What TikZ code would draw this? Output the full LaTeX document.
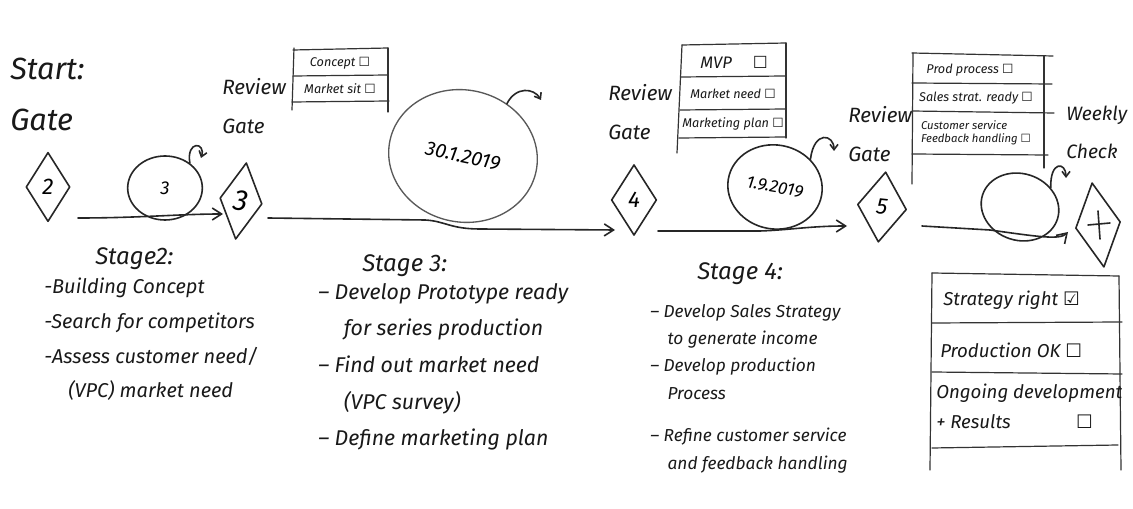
\documentclass[tikz,border=0pt]{standalone}
\usepackage{fontspec}
\setmainfont{Fira Sans}
\newfontfamily\sym{DejaVu Sans}
\usetikzlibrary{shapes.geometric,arrows.meta}
\newcommand{\cb}{{\sym\char"2610}}
\newcommand{\cbx}{{\sym\char"2611}}
\tikzset{
  ink/.style={draw=black!85, line width=1.2pt, line cap=round, line join=round},
  thin ink/.style={draw=black!80, line width=0.9pt, line cap=round},
  gatebox/.style={shape=diamond, ink, inner sep=0pt, font=\fontsize{17}{20}\selectfont\itshape},
  loopnode/.style={shape=ellipse, ink, inner sep=0pt},
  flow/.style={ink, -{Straight Barb[length=7pt,width=9pt]}},
  curl/.style={ink, -{Straight Barb[length=4pt,width=6pt]}},
  hand/.style={font=\fontsize{15}{26}\selectfont\itshape, align=left, inner sep=0pt, text=black!90},
  head/.style={font=\fontsize{18}{20}\selectfont\itshape, inner sep=0pt, text=black!90},
  label/.style={font=\fontsize{15.5}{29}\selectfont\itshape, align=left, inner sep=0pt, text=black!90},
  biglabel/.style={font=\fontsize{23}{38}\selectfont\itshape, align=left, inner sep=0pt, text=black!90},
  row/.style={font=\fontsize{9.5}{11}\selectfont\itshape, inner sep=0pt, text=black!90, align=left},
  bigrow/.style={font=\fontsize{14}{22}\selectfont\itshape, inner sep=0pt, text=black!90, align=left},
}
\begin{document}
\begin{tikzpicture}[x=0.75pt, y=-0.75pt]
\useasboundingbox (0,0) rectangle (1133,509);
\fill[white] (0,0) rectangle (1133,509);

% ---- gate labels
\node[biglabel, anchor=north west] (startlbl) at (10,58) {Start:\\Gate};
\node[label, anchor=north west] (rev3) at (222,78) {Review\\Gate};
\node[label, anchor=north west] (rev4) at (608,84) {Review\\Gate};
\node[label, anchor=north west] (rev5) at (848,106) {Review\\Gate};
\node[label, anchor=north west, font=\fontsize{14.5}{28}\selectfont\itshape] (weekly) at (1066,106) {Weekly\\Check};

% ---- gates
\node[gatebox, minimum width=33pt, minimum height=52pt] (d2) at (48,187) {2};
\node[gatebox, minimum width=32pt, minimum height=58pt, font=\fontsize{22}{24}\selectfont\itshape, rotate=-8] (d3) at (241,201) {3};
\node[gatebox, minimum width=34pt, minimum height=53pt] (d4) at (634,200) {4};
\node[gatebox, minimum width=37pt, minimum height=53pt, rotate=-6] (d5) at (882,207) {5};
\node[gatebox, minimum width=34pt, minimum height=64pt, rotate=8] (dx) at (1098,225) {};
\draw[ink] ([shift={(-10,0)}]dx.center) -- ([shift={(12,-2)}]dx.center);
\draw[ink] ([shift={(0,-14)}]dx.center) -- ([shift={(2,14)}]dx.center);

% ---- loops on the stage lines
\node[loopnode, minimum width=56pt, minimum height=48pt, font=\fontsize{14}{16}\selectfont\itshape] (l3) at (165,188) {3};
\node[loopnode, draw=black!65, line width=1pt, minimum width=112pt, minimum height=99pt, rotate=-12, font=\fontsize{15}{18}\selectfont\itshape] (l4) at (463,156) {30.1.2019};
\node[loopnode, minimum width=71pt, minimum height=63pt, rotate=-10, font=\fontsize{13}{16}\selectfont\itshape] (l5) at (775,187) {1.9.2019};
\node[loopnode, minimum width=59pt, minimum height=50pt, rotate=-18] (l6) at (1020,207) {};

% small repeat curls
\draw[curl] (l3.45) .. controls (186,140) and (206,142) .. (201,158);
\draw[curl] (l4.62) .. controls (516,86) and (534,88) .. (541,100);
\draw[curl] (l5.48) .. controls (814,130) and (834,134) .. (834,151);
\draw[curl] (l6.50) .. controls (1050,160) and (1066,162) .. (1066,178);

% ---- stage flow
\coordinate (s2) at ([shift={(30,31)}]d2.center);
\coordinate (s3) at ([shift={(27,17)}]d3.center);
\coordinate (s4) at ([shift={(24,31)}]d4.center);
\coordinate (s5) at ([shift={(40,19)}]d5.center);
\draw[flow] (s2) .. controls (140,218) and (180,214) .. ([shift={(-18,13)}]d3.center);
\draw[flow] (s3) -- (425,220) .. controls (445,221) and (450,229) .. (480,229) -- ([shift={(-19,30)}]d4.center);
\draw[flow] (s4) -- (760,231) .. controls (790,230) and (810,226) .. ([shift={(-35,19)}]d5.center);
\draw[flow] (s5) -- (990,230) .. controls (1040,237) and (1060,240) .. ([shift={(-30,7)}]dx.center);

% ---- review checklists
% gate 3
\draw[thin ink] (293,50) -- (388,48);
\draw[thin ink] (293,76) -- (388,75);
\draw[thin ink] (292,102) -- (389,101);
\draw[thin ink] (294,48) -- (292,110);
\draw[thin ink] (388,48) -- (388,112);
\node[row] (c31) at (340,63) {Concept \cb};
\node[row] (c32) at (340,89) {Market sit \cb};
% gate 4
\draw[thin ink] (682,45) -- (786,43);
\draw[thin ink] (681,77) -- (785,76);
\draw[thin ink] (680,110) -- (786,109);
\draw[thin ink] (679,138) -- (786,137);
\draw[thin ink] (682,45) -- (677,153);
\draw[thin ink] (786,43) -- (786,138);
\node[row, font=\fontsize{12.5}{14}\selectfont\itshape] (c41) at (734,62) {MVP \quad\cb};
\node[row, font=\fontsize{9.5}{12}\selectfont\itshape] (c42) at (733,94) {Market need \cb};
\node[row, font=\fontsize{9.5}{12}\selectfont\itshape] (c43) at (733,124) {Marketing plan \cb};
% gate 5
\draw[thin ink] (912,53) -- (1053,56);
\draw[thin ink] (912,83) -- (1052,84);
\draw[thin ink] (912,111) -- (1054,113);
\draw[thin ink] (912,154) -- (1048,155);
\draw[thin ink] (913,53) -- (912,184);
\draw[thin ink] (1044,56) -- (1044,168);
\node[row] (c51) at (970,70) {Prod process \cb};
\node[row] (c52) at (976,98) {Sales strat. ready \cb};
\node[row, font=\fontsize{8.5}{10}\selectfont\itshape] (c53) at (976,133) {Customer service\\Feedback handling \cb};

% ---- stage task lists
\node[head, anchor=west] (st2) at (95,259) {Stage2:};
\node[hand, anchor=north west] (t2) at (44,278) {-Building Concept\\-Search for competitors\\-Assess customer need/\\\hspace*{1.2em}(VPC) market need};
\node[head, anchor=west] (st3) at (362,266) {Stage 3:};
\node[hand, anchor=north west, font=\fontsize{16}{27.5}\selectfont\itshape] (t3) at (318,283) {– Develop Prototype ready\\\hspace*{1.2em}for series production\\– Find out market need\\\hspace*{1.2em}(VPC survey)\\– Define marketing plan};
\node[head, anchor=west] (st4) at (697,274) {Stage 4:};
\node[hand, anchor=north west, font=\fontsize{13}{20.5}\selectfont\itshape] (t4a) at (650,304) {– Develop Sales Strategy\\\hspace*{1em}to generate income\\– Develop production\\\hspace*{1em}Process};
\node[hand, anchor=north west, font=\fontsize{13}{20.5}\selectfont\itshape] (t4b) at (650,428) {– Refine customer service\\\hspace*{1em}and feedback handling};

% ---- weekly check list
\draw[thin ink] (932,273) -- (1119,276);
\draw[thin ink] (932,323) -- (1122,322);
\draw[thin ink] (932,372) -- (1122,374);
\draw[thin ink] (932,448) -- (1118,445);
\draw[thin ink] (932,273) -- (930,470);
\draw[thin ink] (1119,276) -- (1121,470);
\node[bigrow, anchor=west] (w1) at (943,300) {Strategy right \cbx};
\node[bigrow, anchor=west] (w2) at (940,350) {Production OK \cb};
\node[bigrow, anchor=north west] (w3) at (936,384) {Ongoing development\\+ Results\hspace{3.5em}\cb};
\end{tikzpicture}
\end{document}
